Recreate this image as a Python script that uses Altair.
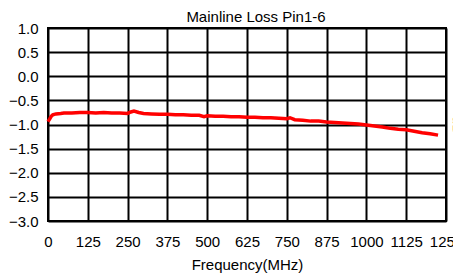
import altair as alt
import pandas as pd

freq = [0, 5, 10, 15, 25, 40, 50, 75, 100, 125, 150, 175, 200, 225, 250, 260, 270, 285,
        300, 325, 350, 375, 400, 425, 450, 475, 490, 500, 525, 550, 575, 600, 625, 650,
        675, 700, 725, 750, 760, 775, 800, 825, 850, 875, 900, 925, 950, 975, 1000,
        1025, 1050, 1075, 1100, 1125, 1150, 1175, 1200, 1225]
loss = [-0.94, -0.89, -0.83, -0.80, -0.78, -0.77, -0.76, -0.76, -0.75, -0.75, -0.76, -0.75,
        -0.76, -0.76, -0.77, -0.74, -0.72, -0.75, -0.77, -0.78, -0.79, -0.79, -0.80, -0.80,
        -0.81, -0.81, -0.84, -0.82, -0.83, -0.83, -0.84, -0.84, -0.85, -0.85, -0.86, -0.86,
        -0.87, -0.88, -0.86, -0.90, -0.91, -0.93, -0.93, -0.95, -0.96, -0.97, -0.98, -0.99,
        -1.01, -1.03, -1.05, -1.08, -1.10, -1.11, -1.14, -1.17, -1.19, -1.22]

x_ticks = [0, 125, 250, 375, 500, 625, 750, 875, 1000, 1125, 1250]
y_ticks = [1.0, 0.5, 0.0, -0.5, -1.0, -1.5, -2.0, -2.5, -3.0]

df = pd.DataFrame({"freq": freq, "loss": loss})
FONT = "Liberation Sans"

base = alt.Chart(df)

line = base.mark_line(color="#ff0000", strokeWidth=3.5).encode(
    x=alt.X("freq:Q", scale=alt.Scale(domain=[0, 1250], nice=False),
            axis=alt.Axis(values=x_ticks, title="Frequency(MHz)", format="d",
                          grid=True, gridColor="#000000", gridWidth=2,
                          ticks=False, domain=False, labelPadding=13,
                          labelFontSize=15, titleFontSize=15, titleFontWeight="normal",
                          labelFont=FONT, titleFont=FONT, labelColor="#000000",
                          titleColor="#000000", titlePadding=8, labelFlush=False,
                          labelOverlap=False)),
    y=alt.Y("loss:Q", scale=alt.Scale(domain=[-3, 1], nice=False),
            axis=alt.Axis(values=y_ticks, title=None, format=".1f",
                          grid=True, gridColor="#000000", gridWidth=2,
                          ticks=False, domain=False, labelPadding=10,
                          labelFontSize=15, labelFont=FONT, labelColor="#000000",
                          labelFlush=False, labelOverlap=False)),
)

right = base.mark_line(opacity=0).encode(
    x=alt.X("freq:Q", scale=alt.Scale(domain=[0, 1250], nice=False), axis=None),
    y=alt.Y("loss:Q", scale=alt.Scale(domain=[-3, 1], nice=False),
            axis=alt.Axis(orient="right", title="dB", labels=False, ticks=False,
                          domain=False, grid=False, titleFontSize=15,
                          titleFontWeight="normal", titleFont=FONT,
                          titleColor="#000000", titlePadding=3)),
)

chart = alt.layer(line, right).resolve_axis(x="independent", y="independent").properties(
    width=398,
    height=193,
    title=alt.TitleParams("Mainline  Loss Pin1-6", fontSize=15, fontWeight="normal",
                          font=FONT, color="#000000", offset=6, dx=9, dy=10,
                          frame="group"),
    autosize=alt.AutoSizeParams(type="none"),
    padding={"left": 40, "top": 20, "right": 7, "bottom": 52},
).configure_view(stroke="#000000", strokeWidth=2)

chart.save("out.html", embed_options={"renderer": "svg", "actions": False})
